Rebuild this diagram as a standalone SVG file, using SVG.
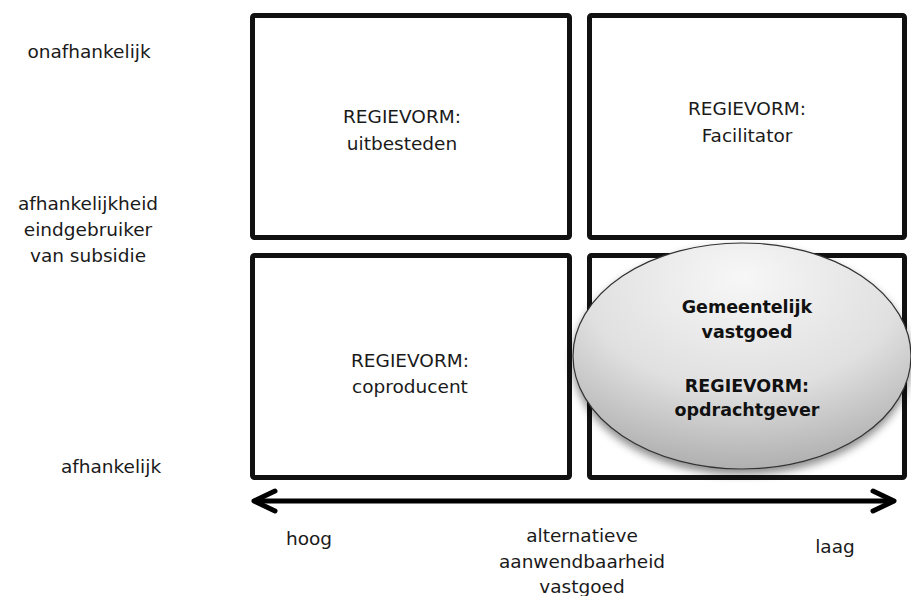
<svg xmlns="http://www.w3.org/2000/svg" width="911" height="596" viewBox="0 0 911 596">
  <style>
    .lbl { font-family: "DejaVu Sans", "Liberation Sans", sans-serif; font-size: 18.5px; fill: #1a1a1a; text-anchor: middle; }
    .bold { font-family: "DejaVu Sans", "Liberation Sans", sans-serif; font-size: 17.5px; font-weight: bold; fill: #111; text-anchor: middle; }
    .box { fill: #ffffff; stroke: #111; stroke-width: 5; }
    .axis { fill: none; stroke: #000; stroke-width: 5; stroke-linecap: round; stroke-linejoin: round; }
  </style>
  <defs>
    <radialGradient id="ovalFill" cx="0.5" cy="0.2" r="0.85" fx="0.5" fy="0.15">
      <stop offset="0" stop-color="#f7f7f7"/>
      <stop offset="0.55" stop-color="#e0e0e0"/>
      <stop offset="1" stop-color="#a9a9a9"/>
    </radialGradient>
    <filter id="ovalShadow" x="-10%" y="-10%" width="120%" height="130%">
      <feDropShadow dx="0" dy="5" stdDeviation="4" flood-color="#000" flood-opacity="0.45"/>
    </filter>
  </defs>

  <rect width="911" height="596" fill="#ffffff"/>

  <!-- axis labels, vertical dimension -->
  <g id="axis-y-labels">
    <text class="lbl" x="89" y="58">onafhankelijk</text>
    <text class="lbl" x="88" y="210">afhankelijkheid</text>
    <text class="lbl" x="88" y="236">eindgebruiker</text>
    <text class="lbl" x="88" y="262">van subsidie</text>
    <text class="lbl" x="111" y="473">afhankelijk</text>
  </g>

  <!-- quadrants -->
  <g id="q-uitbesteden">
    <rect class="box" x="252.5" y="15.5" width="317" height="222" rx="2"/>
    <text class="lbl" x="402" y="123">REGIEVORM:</text>
    <text class="lbl" x="402" y="150">uitbesteden</text>
  </g>
  <g id="q-facilitator">
    <rect class="box" x="589.5" y="15.5" width="315" height="222" rx="2"/>
    <text class="lbl" x="747" y="115">REGIEVORM:</text>
    <text class="lbl" x="747" y="142">Facilitator</text>
  </g>
  <g id="q-coproducent">
    <rect class="box" x="252.5" y="255.5" width="317" height="222" rx="2"/>
    <text class="lbl" x="410" y="367">REGIEVORM:</text>
    <text class="lbl" x="410" y="393">coproducent</text>
  </g>
  <g id="q-opdrachtgever">
    <rect class="box" x="589.5" y="255.5" width="315" height="222" rx="2"/>
  </g>

  <!-- highlighted position -->
  <g id="gemeentelijk-vastgoed">
    <ellipse cx="742" cy="356" rx="169" ry="113" fill="url(#ovalFill)" stroke="#333" stroke-width="1.2" filter="url(#ovalShadow)"/>
    <text class="bold" x="747" y="313">Gemeentelijk</text>
    <text class="bold" x="747" y="338">vastgoed</text>
    <text class="bold" x="747" y="392">REGIEVORM:</text>
    <text class="bold" x="747" y="416">opdrachtgever</text>
  </g>

  <!-- horizontal axis -->
  <g id="connectors">
    <line class="axis" x1="256" y1="501" x2="892" y2="501"/>
    <polyline class="axis" points="275,491 254,501 275,511"/>
    <polyline class="axis" points="873,491 894,501 873,511"/>
  </g>

  <g id="axis-x-labels">
    <text class="lbl" x="309" y="545">hoog</text>
    <text class="lbl" x="582" y="542">alternatieve</text>
    <text class="lbl" x="582" y="568">aanwendbaarheid</text>
    <text class="lbl" x="582" y="593">vastgoed</text>
    <text class="lbl" x="835" y="553">laag</text>
  </g>
</svg>
